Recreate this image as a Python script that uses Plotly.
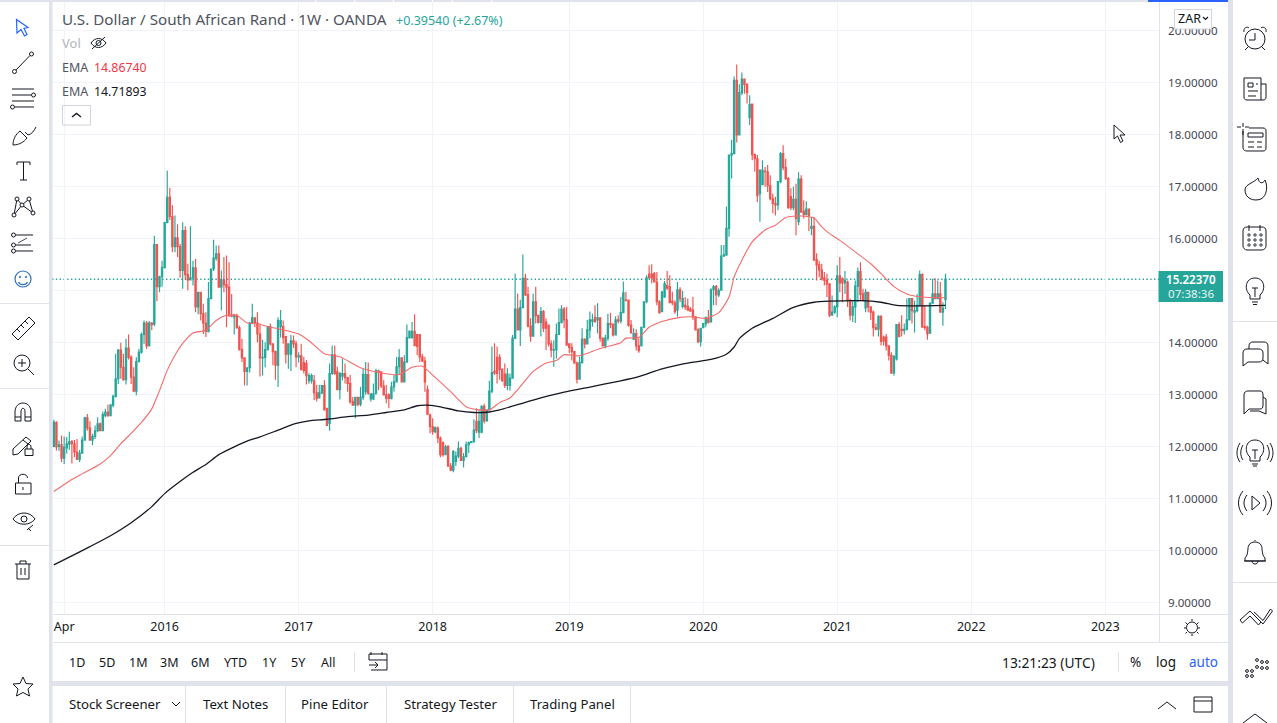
import re
import pandas as pd
import plotly.graph_objects as go

W, H = 1277, 723

# ---------- data (USD/ZAR weekly) ----------
opens = [
 12.01,12.47,12.01,12.04,11.78,11.98,12.05,12.10,12.06,11.90,
 11.76,11.88,12.13,12.56,12.36,12.13,12.20,12.31,12.44,12.31,
 12.60,12.67,12.60,12.80,12.97,13.31,13.86,13.53,13.29,13.90,
 13.72,13.34,13.07,13.64,13.82,14.16,14.38,13.94,14.38,14.36,
 15.89,15.08,15.27,15.45,16.31,16.80,16.43,15.85,16.02,15.85,
 15.39,16.16,15.31,15.21,15.25,15.44,14.69,14.97,14.56,14.38,
 14.22,14.85,15.42,15.63,15.71,15.07,15.21,15.12,15.07,14.52,
 14.50,14.53,14.29,13.87,13.71,13.45,13.52,14.38,14.48,14.38,
 14.17,13.71,13.72,13.87,
 14.31,13.98,13.83,13.57,14.31,14.31,14.12,13.78,13.78,14.04,
 13.98,13.73,13.75,13.62,13.60,13.27,13.27,13.27,13.04,12.94,
 13.03,13.18,12.74,12.45,13.41,13.77,13.44,13.10,13.36,13.41,
 13.33,13.22,12.87,12.80,12.95,12.82,12.95,13.06,13.39,12.92,
 12.92,13.03,13.46,13.44,13.17,13.00,13.00,12.93,13.15,13.25,
 13.54,13.71,13.25,13.63,14.10,14.10,14.22,14.16,14.16,13.73,
 13.65,13.10,12.61,12.39,12.29,12.36,12.17,12.08,11.85,12.01,
 11.63,11.55,11.72,11.82,11.97,11.74,11.81,12.04,12.08,12.10,
 12.49,12.28,12.28,12.78,12.50,
 12.71,13.07,13.45,13.72,13.72,13.49,13.40,13.18,13.18,13.32,
 14.09,14.65,14.25,14.68,15.24,14.93,14.32,14.13,14.79,14.53,
 14.39,14.60,14.40,14.34,13.98,13.86,13.87,14.16,14.39,14.65,
 14.44,13.98,13.91,13.83,13.61,13.30,13.62,14.07,13.98,14.25,
 14.41,14.49,14.44,14.48,14.09,13.94,14.09,14.37,14.36,14.15,
 14.44,14.42,14.58,14.82,14.82,14.34,14.07,14.18,13.94,13.94,
 14.30,14.79,15.32,15.32,15.33,15.17,14.79,14.60,14.88,15.10,
 15.08,14.80,14.77,14.63,15.02,14.70,14.72,14.70,14.65,14.63,
 14.50,14.25,14.02,14.29,14.37,14.47,
 14.40,15.02,15.08,14.92,15.01,15.67,15.69,16.20,17.61,17.64,
 19.05,18.00,18.81,19.07,18.97,18.33,18.59,17.62,17.54,16.87,
 17.04,17.30,17.29,17.02,16.77,16.68,16.65,17.10,17.64,17.37,
 17.16,16.81,16.60,16.76,16.33,17.15,16.53,16.47,16.57,16.20,16.24,
 15.60,15.50,15.40,15.25,15.20,15.13,14.53,14.59,14.69,15.29,
 15.23,15.15,15.17,14.81,14.53,14.69,15.09,15.37,14.94,14.67,
 14.97,14.69,14.59,14.29,14.26,14.51,14.11,14.11,13.94,13.76,
 13.42,13.69,14.35,14.26,14.24,14.26,14.44,14.85,14.59,14.62,
 14.72,15.31,14.31,14.30,14.19,14.76,14.94,14.85,14.94,14.59,14.83]
highs = [
 12.52,12.49,12.12,12.22,12.20,12.19,12.29,12.13,12.13,12.15,
 11.94,12.20,12.58,12.63,12.49,12.25,12.41,12.57,12.47,12.68,
 12.73,12.81,12.81,13.00,13.79,13.88,14.00,13.79,14.08,14.16,
 13.76,13.53,13.72,13.88,14.20,14.43,14.42,14.42,14.40,16.06,
 15.89,15.29,15.58,16.32,17.31,16.98,16.65,16.45,16.28,15.90,
 16.32,16.24,15.52,16.24,15.58,15.61,14.97,14.97,14.75,14.59,
 15.17,15.42,15.98,15.87,15.87,15.39,15.65,15.68,15.55,14.94,
 14.56,14.56,14.33,14.08,13.72,13.53,14.40,14.75,14.49,14.59,
 14.36,14.06,14.01,14.31,
 14.37,13.98,13.85,14.49,14.63,14.43,14.12,13.98,14.15,14.14,
 14.04,13.82,13.98,13.73,13.67,13.42,13.41,13.38,13.19,13.19,
 13.19,13.28,12.74,13.60,13.95,13.95,13.54,13.44,13.69,13.60,
 13.34,13.38,12.96,12.96,12.96,13.15,13.50,13.63,13.62,13.03,
 13.22,13.50,13.48,13.44,13.28,13.19,13.03,13.25,13.38,13.73,
 13.88,13.71,13.76,14.35,14.24,14.40,14.55,14.16,14.17,13.79,
 13.73,13.18,12.64,12.55,12.39,12.39,12.20,12.10,12.04,12.03,
 11.69,11.94,11.91,12.10,12.00,11.88,12.10,12.10,12.11,12.53,
 12.74,12.71,12.80,12.83,12.71,
 13.27,13.93,13.99,13.93,13.78,13.51,13.60,13.51,13.41,14.15,
 15.33,14.95,14.83,15.70,15.33,15.08,14.47,14.95,15.08,14.53,
 14.69,14.63,14.47,14.34,14.05,14.05,14.37,14.66,14.72,14.69,
 14.69,13.98,13.99,13.83,13.64,13.73,14.28,14.09,14.44,14.60,
 14.56,14.72,14.76,14.49,14.09,14.15,14.56,14.58,14.37,14.51,
 14.53,14.88,15.18,14.98,14.83,14.44,14.28,14.26,14.09,14.31,
 14.79,15.30,15.49,15.51,15.36,15.36,14.82,14.98,15.19,15.38,
 15.30,14.98,14.82,15.17,15.07,15.00,14.88,14.85,14.69,14.88,
 14.51,14.28,14.28,14.37,14.50,14.63,
 15.05,15.11,15.11,15.05,15.88,15.88,16.62,17.62,17.90,19.12,
 19.35,18.97,19.20,19.07,18.99,18.76,18.60,17.64,17.61,17.32,
 17.51,17.38,17.42,17.22,16.87,16.81,17.11,17.67,17.80,17.54,
 17.19,16.97,17.00,17.06,17.28,17.22,16.74,16.72,16.57,16.42,16.42,
 15.72,15.58,15.52,15.36,15.33,15.15,14.91,14.72,15.49,15.65,
 15.26,15.38,15.20,14.85,14.81,15.20,15.45,15.55,15.04,15.04,
 14.97,14.69,14.62,14.37,14.53,14.53,14.14,14.17,13.95,13.82,
 13.76,14.36,14.40,14.53,14.37,14.85,14.85,14.85,14.81,14.94,
 15.39,15.34,14.72,14.33,14.78,15.23,15.24,15.20,15.17,14.78,15.33]
lows = [
 11.99,11.93,11.92,11.71,11.67,11.87,11.94,11.68,11.80,11.75,
 11.71,11.88,12.12,12.31,12.12,12.03,12.15,12.28,12.30,12.30,
 12.57,12.58,12.59,12.76,12.95,13.21,13.31,13.27,13.20,13.68,
 13.21,13.05,12.99,13.62,13.79,13.98,13.88,13.93,14.24,14.32,
 14.80,14.97,15.08,15.43,16.30,16.36,15.74,15.74,15.65,15.25,
 15.04,15.21,15.01,15.20,15.10,14.59,14.55,14.43,14.17,14.11,
 14.20,14.84,15.38,15.58,15.07,14.62,14.97,14.30,14.50,14.49,
 14.16,14.27,13.85,13.63,13.18,13.18,13.43,14.36,14.30,14.01,
 13.35,13.37,13.53,13.85,
 13.95,13.57,13.29,13.15,14.10,13.98,13.60,13.50,13.46,13.90,
 13.53,13.62,13.47,13.41,13.20,13.22,13.22,12.90,12.87,12.94,
 13.02,12.71,12.41,12.31,13.38,13.38,13.10,12.91,13.28,13.22,
 13.06,12.83,12.80,12.55,12.78,12.78,12.90,13.00,13.00,12.87,
 12.90,13.00,13.09,13.13,12.99,12.84,12.74,12.91,13.06,13.25,
 13.38,13.24,13.24,13.63,14.08,14.08,13.93,13.76,13.63,13.63,
 13.06,12.61,12.26,12.23,12.26,12.07,11.80,11.81,11.85,11.62,
 11.53,11.51,11.63,11.78,11.73,11.60,11.81,11.88,12.07,12.08,
 12.26,12.17,12.26,12.45,12.48,
 12.70,13.03,13.38,13.22,13.29,13.25,13.13,13.09,13.08,13.32,
 14.07,14.25,13.94,14.66,14.90,14.30,14.02,14.12,14.37,14.37,
 14.12,14.21,13.86,13.93,13.72,13.54,13.70,14.15,14.37,14.28,
 13.94,13.80,13.66,13.60,13.22,13.30,13.60,13.89,13.97,14.09,
 14.31,14.38,14.18,14.02,13.93,13.89,14.04,14.28,14.12,14.15,
 14.37,14.37,14.58,14.80,14.31,14.18,14.05,13.85,13.81,13.93,
 14.28,14.76,15.24,15.14,15.17,14.72,14.56,14.60,14.88,15.02,
 14.77,14.72,14.56,14.50,14.78,14.66,14.63,14.62,14.60,14.44,
 14.24,13.99,13.93,14.28,14.30,14.37,
 14.40,14.72,14.72,14.88,15.00,15.65,15.67,16.04,17.16,17.62,
 17.85,17.99,18.76,18.79,18.60,18.19,17.51,17.29,16.71,16.33,
 17.03,17.00,16.90,16.74,16.49,16.45,16.55,17.07,17.32,17.13,
 16.58,16.55,16.55,16.07,16.26,16.50,16.39,16.45,16.15,16.07,15.59,
 15.20,15.26,15.20,15.10,14.88,14.49,14.52,14.56,14.49,14.97,
 14.78,14.94,14.69,14.43,14.40,14.38,14.78,14.81,14.80,14.59,
 14.59,14.44,14.12,14.24,14.12,13.95,13.95,13.85,13.66,13.40,
 13.37,13.66,14.11,14.12,14.16,14.24,14.43,14.37,14.20,14.59,
 14.70,14.30,14.24,14.06,14.17,14.75,14.84,14.84,14.59,14.33,14.65]
closes = [
 12.47,12.00,12.04,11.78,11.99,12.06,12.10,12.06,11.90,11.76,
 11.88,12.13,12.56,12.36,12.13,12.20,12.31,12.44,12.31,12.62,
 12.67,12.60,12.81,12.97,13.31,13.86,13.53,13.29,13.90,13.72,
 13.34,13.07,13.64,13.82,14.16,14.38,13.94,14.38,14.35,15.89,
 15.08,15.27,15.45,16.31,16.80,16.43,15.85,16.02,15.85,15.39,
 16.16,15.31,15.21,15.25,15.44,14.69,14.97,14.56,14.38,14.22,
 14.85,15.42,15.63,15.71,15.07,15.21,15.12,15.07,14.52,14.51,
 14.53,14.29,13.87,13.71,13.45,13.52,14.38,14.48,14.38,14.17,
 13.71,13.72,13.87,14.31,
 13.98,13.83,13.57,14.43,14.43,14.10,13.78,13.98,14.04,13.98,
 13.73,13.75,13.49,13.47,13.37,13.37,13.37,13.04,12.93,13.04,
 13.18,12.71,12.41,13.41,13.77,13.41,13.10,13.41,13.41,13.33,
 13.22,12.87,12.80,12.95,12.82,12.95,13.39,13.39,13.03,13.02,
 13.02,13.46,13.44,13.17,13.00,12.93,12.93,13.15,13.25,13.54,
 13.71,13.25,13.63,14.10,14.22,14.22,13.95,13.93,13.73,13.65,
 13.25,12.63,12.39,12.29,12.37,12.17,11.85,11.85,12.00,11.63,
 11.55,11.91,11.82,11.97,11.74,11.81,12.04,12.08,12.10,12.32,
 12.31,12.49,12.78,12.50,12.71,
 13.07,13.43,13.42,13.41,13.49,13.27,13.18,13.40,13.32,14.09,
 14.65,14.25,14.68,15.24,14.92,14.32,14.13,14.79,14.52,14.39,
 14.60,14.28,14.28,13.98,13.86,13.87,14.16,14.39,14.65,14.44,
 13.96,13.91,13.83,13.61,13.30,13.62,14.07,13.98,14.25,14.44,
 14.44,14.41,14.48,14.09,13.94,14.09,14.37,14.35,14.15,14.44,
 14.42,14.58,14.96,14.81,14.34,14.19,14.18,13.94,13.85,14.30,
 14.79,15.25,15.25,15.25,15.17,14.79,14.58,14.98,15.14,15.05,
 14.77,14.77,14.60,15.02,14.85,14.85,14.69,14.63,14.61,14.50,
 14.25,14.02,14.28,14.37,14.49,14.39,
 15.02,15.08,14.92,15.01,15.67,15.69,16.20,17.61,17.64,19.05,
 18.00,18.81,19.07,18.97,18.81,18.58,17.62,17.54,16.83,17.32,
 17.32,17.29,17.02,16.77,16.68,16.65,17.10,17.64,17.37,17.16,
 16.60,16.60,16.76,16.39,17.15,16.51,16.47,16.57,16.45,16.24,15.59,
 15.50,15.40,15.23,15.20,15.13,14.53,14.59,14.69,15.29,15.15,
 15.15,15.20,14.81,14.53,14.69,15.09,15.37,14.93,14.81,14.97,
 14.69,14.59,14.29,14.26,14.51,14.03,14.03,13.94,13.76,13.42,
 13.74,14.35,14.12,14.24,14.26,14.44,14.85,14.62,14.62,14.72,
 15.31,14.30,14.29,14.17,14.76,14.94,14.85,14.94,14.59,14.67,15.2237]
weeks = pd.date_range(end="2021-10-18", periods=len(opens), freq="W-MON")

ema50_week = [0,7,11,18,22,26,30,34,38,41,44,47,50,54,59,63,67,71,75,79,83,87,95,99,105,111,119,127,134,139,143,147,154,160,165,169,173,177,182,186,191,195,198,204,212,220,222,227,231,236,243,248,253,258,262,264,267,271,276,280,284,290,295,298,301,305,312,317,321,326,331,337,346]
ema50_val = [11.14,11.37,11.48,11.67,11.83,12.06,12.26,12.47,12.73,13.08,13.47,13.76,13.99,14.19,14.24,14.43,14.53,14.53,14.38,14.37,14.31,14.27,14.17,14.04,13.79,13.73,13.52,13.42,13.39,13.53,13.55,13.38,13.06,12.77,12.71,12.71,12.85,12.94,13.22,13.45,13.61,13.66,13.77,13.75,13.89,14.00,14.09,14.10,14.30,14.41,14.49,14.50,14.47,14.58,14.88,15.27,15.59,15.94,16.17,16.26,16.41,16.44,16.40,16.23,16.10,15.97,15.71,15.52,15.33,15.08,14.94,14.88,14.8674]
ema200_week = [0,6,14,22,30,38,43,50,54,59,64,70,75,80,87,94,99,106,114,122,129,136,141,145,150,157,163,169,173,186,198,208,219,227,236,247,255,261,264,266,271,279,287,295,301,313,321,327,335,346]
ema200_val = [9.73,9.88,10.08,10.29,10.54,10.85,11.10,11.37,11.51,11.66,11.85,12.00,12.11,12.19,12.32,12.45,12.50,12.53,12.58,12.61,12.66,12.71,12.79,12.80,12.77,12.69,12.66,12.67,12.71,12.90,13.05,13.15,13.26,13.35,13.50,13.62,13.68,13.78,13.92,14.08,14.28,14.47,14.68,14.78,14.80,14.81,14.78,14.72,14.71,14.71893]

last_price = 15.2237
price_ticks = list(range(9, 21))
price_labels = [f"{v:.5f}" if v != 15 else "" for v in price_ticks]
time_ticks = ["2015-03-30","2015-12-28","2016-12-26","2017-12-25","2018-12-31","2019-12-30","2020-12-28","2021-12-27","2022-12-26"]
time_labels = ["Apr","2016","2017","2018","2019","2020","2021","2022","2023"]
range_buttons = ["1D","5D","1M","3M","6M","YTD","1Y","5Y","All"]
tabs = ["Stock Screener","Text Notes","Pine Editor","Strategy Tester","Trading Panel"]

UP, DOWN = "#26a69a", "#ef5350"
INK, STRIP, GRID = "#131722", "#e0e3eb", "#f0f3fa"
FONT = "Noto Sans"

# ---------- helpers in window pixels ----------
def px(x): return x / W
def py(y): return 1 - y / H

def path_d(d):
    out, is_x = [], True
    for tok in re.findall(r"[A-Za-z]|-?[\d.]+", d):
        if tok.isalpha():
            out.append(tok); is_x = True
        else:
            out.append(f"{px(float(tok)):.5f}" if is_x else f"{py(float(tok)):.5f}")
            is_x = not is_x
    return " ".join(out)

shapes, notes = [], []
def path(d, color=INK, width=1.0, fill=None):
    shapes.append(dict(type="path", xref="paper", yref="paper", path=path_d(d), layer="above",
                       line=dict(color=color, width=width), fillcolor=fill or "rgba(0,0,0,0)"))
def rect(x0, y0, x1, y1, fill=None, color=None, width=1.0):
    shapes.append(dict(type="rect", xref="paper", yref="paper", x0=px(x0), x1=px(x1), y0=py(y1), y1=py(y0), layer="above",
                       fillcolor=fill or "rgba(0,0,0,0)", line=dict(color=color or "rgba(0,0,0,0)", width=width if color else 0)))
def circ(cx, cy, r, color=INK, width=1.0, fill=None):
    shapes.append(dict(type="circle", xref="paper", yref="paper", x0=px(cx-r), x1=px(cx+r), y0=py(cy+r), y1=py(cy-r), layer="above",
                       fillcolor=fill or "rgba(0,0,0,0)", line=dict(color=color, width=width)))
def text(x, y, s, size=13, color=INK, anchor="center", weight=None):
    if anchor == "left":
        x -= 2
    notes.append(dict(xref="paper", yref="paper", x=px(x), y=py(y), text=s, showarrow=False, xanchor=anchor, yanchor="middle",
                      font=dict(family=FONT, size=size, color=color, weight=weight or 400)))

# ---------- window frame ----------
rect(0, 0, 49, 723, "#ffffff")
rect(49, 0, 52.5, 723, STRIP)
rect(1228, 0, 1233, 723, STRIP)
rect(52, 681, 1228, 686, STRIP)
rect(0, 0, 1228, 2, STRIP)
rect(1148, 0, 1228, 2, "#2962ff")
for xs in [315, 354, 393, 432, 452, 491]:
    rect(xs, 0, xs + 1, 2, "#ffffff")
rect(53, 642, 1228, 643, STRIP)
rect(1159, 2, 1160, 642, STRIP)
rect(53, 614, 1228, 615, STRIP)
for y in [303, 388, 545]:
    rect(0, y, 49, y + 1, STRIP)
for y in [321, 582]:
    rect(1233, y, 1277, y + 1, STRIP)
for x in [185, 285, 386, 513, 630]:
    rect(x, 686, x + 1, 723, STRIP)
rect(354, 652, 355, 672, STRIP)
rect(1118, 652, 1119, 672, STRIP)

# ---------- left tools ----------
path("M16.5 19.5 L17 33 L21 29.5 L24.5 36 L27 34.5 L24 28.5 L28 27.5 Z", "#2962ff", 1.2)
path("M16 70 L30 55.5"); circ(14.5, 71.5, 2); circ(31.5, 54, 2)
path("M12 89 L34 89 M12 95 L31 95 M12 101 L34 101 M15 107 L34 107"); circ(33.5, 95, 2); circ(12.5, 107, 2)
path("M13 145 C13 139 16 134 20 131 L27 138 C24 142 19 145 13 145 Z M25 132 L28 135 C32 134 34 131 36 127")
path("M17 165 L17 162 L30 162 L30 165 M23.5 162 L23.5 180 M20 180 L27 180")
path("M14 215 L17 199 L22 205 L29 199 L33 213 L22 205 Z")
for cx, cy in [(14, 215), (17, 199), (22, 205), (29, 199), (33, 213)]:
    circ(cx, cy, 2, fill="#ffffff")
path("M16 235 L33 235 M16 245 L31 245 M16 251 L33 251")
for cy in [235, 245, 251]:
    circ(13.5, cy, 2)
path("M18 243 L27 238", width=0.8)
circ(23, 279, 8, "#2a6fb8", 1.2)
circ(20, 277, 0.8, "#2a6fb8", 1); circ(26, 277, 0.8, "#2a6fb8", 1)
path("M18.5 282 C20 285.5 26 285.5 27.5 282", "#2a6fb8", 1.2)
path("M12 334 L29 317 L35 323 L18 340 Z M17 329 L20 332 M21 325 L24 328 M25 321 L28 324")
circ(22, 363, 8); path("M28 369 L34 375 M18 363 L26 363 M22 359 L22 367")
path("M15 421 L15 412 C15 400 31 400 31 412 L31 421 L25 421 L25 412 C25 407 21 407 21 412 L21 421 Z M15 417 L21 417 M25 417 L31 417")
path("M13 449 L26 437 L31 441 L18 454 L13 455 Z M23 440 L28 444")
rect(25, 449, 33, 455.5, color=INK, width=1.0); path("M27 449 L27 447 C27 443.5 31 443.5 31 447 L31 449")
rect(15.5, 483, 31, 494, color=INK, width=1.0); path("M18.5 483 L18.5 478 C18.5 473 27.5 473 27.5 478 M23 487 L23 490")
path("M13 519 C18 511 30 511 35 519 C30 526 18 526 13 519 Z"); circ(24, 519, 3)
path("M27 530 L33 525 M28 528 L31 531", width=1.0)
path("M15 564 L31 564 M20 564 L20 561 L26 561 L26 564 M17 564 L17 579 L29 579 L29 564 M21 568 L21 575 M25 568 L25 575")
path("M23 677 L26 683.5 L33 684 L28 689 L29.5 696 L23 692.5 L16.5 696 L18 689 L13 684 L20 683.5 Z")

# ---------- right tools ----------
circ(1255, 39, 10)
path("M1255 33 L1255 40 L1249 40 M1244 32 C1243 28 1247 26 1249 28 M1266 32 C1267 28 1263 26 1261 28 M1248 47 L1245 50 M1262 47 L1265 50")
path("M1244 78 L1261 78 L1261 100 L1247 100 C1245 100 1244 99 1244 97 Z M1261 84 L1266 84 L1266 97 C1266 99 1265 100 1263 100 L1261 100")
rect(1248, 83, 1253, 87, color=INK); path("M1256 84 L1258 84 M1248 91 L1258 91 M1248 96 L1256 96")
path("M1243 129 L1243 148 C1243 150 1245 151 1247 151 L1263 151 C1265 151 1266 150 1266 148 L1266 131 C1266 129 1265 128 1263 128 L1249 128")
rect(1248, 133, 1263, 137, color=INK); path("M1248 142 L1254 142 M1257 142 L1262 142 M1248 147 L1254 147 M1257 147 L1262 147")
path("M1243 123 L1243 127 M1243 131 L1243 135 M1237 127 L1241 127 M1245 127 L1249 127")
path("M1258 178 C1259 184 1263 184 1265 180 C1268 186 1267 196 1261 199 C1253 202 1245 198 1245 190 C1245 184 1254 183 1258 178 Z")
path("M1243 231 C1243 228 1245 227 1247 227 L1262 227 C1264 227 1266 228 1266 231 L1266 246 C1266 248 1264 250 1262 250 L1247 250 C1245 250 1243 248 1243 246 Z M1249 225 L1249 231 M1260 225 L1260 231")
for cx in [1249, 1255, 1261]:
    for cy in [235, 240, 245]:
        circ(cx, cy, 1.2, width=0.9)
path("M1250 295 C1244 290 1245 278 1255 278 C1265 278 1266 290 1260 295 L1260 299 L1250 299 Z M1252 302 L1258 302 M1253 304.5 L1257 304.5 M1255 288 L1255 297 M1252 288 L1258 288")
path("M1243 353 C1243 350 1245 349 1247 349 L1259 349 C1261 349 1263 350 1263 353 L1263 358 C1263 361 1261 362 1259 362 L1248 362 L1243 366 Z M1249 349 L1249 346 C1249 343 1251 342 1253 342 L1264 342 C1266 342 1268 343 1268 346 L1268 364 L1263 360")
path("M1244 414 L1244 395 C1244 392 1246 391 1248 391 L1260 391 C1262 391 1263 392 1263 395 L1263 405 C1263 408 1262 409 1260 409 L1249 409 Z M1263 397 L1266 399 L1266 414 L1259 411 L1250 411")
path("M1250 457 C1244 452 1245 440 1255 440 C1265 440 1266 452 1260 457 L1260 461 L1250 461 Z M1252 464 L1258 464 M1253 466 L1257 466 M1255 450 L1255 459 M1252 450 L1258 450")
path("M1243 445 C1240 450 1240 456 1243 460 M1240 443 C1236 449 1236 457 1240 462 M1267 445 C1270 450 1270 456 1267 460 M1270 443 C1274 449 1274 457 1270 462")
path("M1252 496 L1260 503 L1252 510 Z")
path("M1247 495 C1243 500 1243 506 1247 511 M1243 491 C1237 498 1237 508 1243 515 M1263 495 C1267 500 1267 506 1263 511 M1267 491 C1273 498 1273 508 1267 515")
path("M1245 558 C1249 554 1247 548 1249 545 C1251 541 1259 541 1261 545 C1263 548 1261 554 1265 558 L1265 561 L1245 561 Z M1252 561 C1252 565 1258 565 1258 561 M1244 561 L1266 561 M1255 541 L1255 540")
path("M1240 620 L1250 611 L1261 622 L1258.5 625 L1250 616 L1242.5 623 Z M1254 612 L1263 620.5 L1270.5 609 L1272.5 611 L1263 624 L1258 619")
for cx, cy in [(1247, 671), (1247, 676), (1252, 671), (1252, 676), (1257, 667), (1257, 660), (1262, 662), (1262, 668), (1267, 662), (1267, 668)]:
    circ(cx, cy, 1.4, width=1.0)
path("M1243 723 L1255 714 L1267 723")
path("M1158 709 L1167 702 L1176 709")
rect(1194, 697, 1212, 712, color=INK, width=1.0); path("M1194 701 L1212 701")
path("M1192 621 L1192 619 M1192 634 L1192 636 M1186 628 L1184 628 M1200 628 L1198 628")
circ(1192, 627.5, 5.5)
path("M1187 624 L1185.5 622.5 M1197 632 L1198.5 633.5 M1197 624 L1198.5 622.5 M1187 632 L1185.5 633.5")
path("M371 655 L371 652 M382 655 L382 652 M371 670 L387 670 L387 654 L369 654 L369 660 L387 660 M369 665 L378 665 M375 662 L378 665 L375 668", width=1.0)
path("M172 702 L176 706 L180 702", width=1.0)

# ---------- legend ----------
text(62, 19, "U.S. Dollar / South African Rand · 1W · OANDA", 15.2, "#50535e", "left")
text(396, 20, "+0.39540 (+2.67%)", 12.5, UP, "left")
text(62, 43, "Vol", 13, "#b2b5be", "left")
path("M91 43 C95 37 102 37 106 43 C102 49 95 49 91 43 Z M92 49 L105 37"); circ(98.5, 43, 2.5)
text(62, 67, "EMA", 12.5, "#50535e", "left")
text(94, 67, "14.86740", 12.3, "#f23645", "left")
text(62, 91, "EMA", 12.5, "#50535e", "left")
text(94, 91, "14.71893", 12.3, "#131722", "left")
rect(62.5, 105.5, 90.5, 125, color="#d1d4dc")
path("M72 117 L76.5 113.5 L81 117", width=1.4)

# ---------- price and unit boxes ----------
rect(1174.5, 9.5, 1211.5, 29, "#ffffff", "#d1d4dc")
rect(1158.5, 271, 1223, 302, UP)
text(1191, 279.5, "15.22370", 11.6, "#ffffff", weight=600)
text(1191, 293, "07:38:36", 11.6, "rgba(255,255,255,0.8)", weight=500)
text(1189, 18.5, "ZAR", 12.5, "#131722")
path("M1203 17 L1205.5 19.5 L1208 17", width=1.2)

# ---------- bottom bars ----------
for label, x in zip(range_buttons, [77, 107, 138, 169, 200, 235, 269, 298, 328]):
    text(x, 662, label, 12.5, INK)
text(1048, 662, "13:21:23 (UTC)", 13.8, INK)
text(1135, 662, "%", 13.5, INK)
text(1166, 662, "log", 13.5, INK)
text(1203, 662, "auto", 13.5, "#2962ff")
for label, x in zip(tabs, [115, 235, 335, 450, 572]):
    text(x, 704, label, 13.2, INK)

# cursor arrow over the pane
path("M1114 125 L1114 139 L1117.5 136 L1120.5 142.5 L1123 141 L1120 135 L1125 135 Z", "#131722", 1.0, "#ffffff")

shapes.insert(0, dict(type="line", xref="paper", yref="y", x0=px(52), x1=px(1159), y0=last_price, y1=last_price, layer="between",
                      line=dict(color=UP, width=1.4, dash="1.4px,2.4px")))

# ---------- figure ----------
fig = go.Figure()
fig.add_trace(go.Candlestick(x=weeks, open=opens, high=highs, low=lows, close=closes,
                             increasing=dict(line=dict(color=UP, width=1.15), fillcolor=UP),
                             decreasing=dict(line=dict(color=DOWN, width=1.15), fillcolor=DOWN),
                             whiskerwidth=0, hoverinfo="skip"))
fig.add_trace(go.Scatter(x=weeks[ema50_week], y=ema50_val, mode="lines", line=dict(color="#f66a6a", width=1.1, shape="spline", smoothing=0.6), hoverinfo="skip"))
fig.add_trace(go.Scatter(x=weeks[ema200_week], y=ema200_val, mode="lines", line=dict(color="#131722", width=1.3, shape="spline", smoothing=0.6), hoverinfo="skip"))

end = pd.Timestamp("2021-10-18")
fig.update_layout(
    width=W, height=H, margin=dict(l=0, r=0, t=0, b=0), showlegend=False, hovermode=False,
    paper_bgcolor="#ffffff", plot_bgcolor="#ffffff", font=dict(family=FONT, size=12.5, color="#131722"),
    xaxis=dict(type="date", domain=[52 / W, 1159 / W], range=[end - pd.Timedelta(days=2427), end + pd.Timedelta(days=580)],
               rangeslider=dict(visible=False), tickmode="array", tickvals=time_ticks, ticktext=time_labels,
               showgrid=True, gridcolor=GRID, gridwidth=1, zeroline=False, showline=False, ticks="",
               tickfont=dict(family=FONT, size=12.5, color="#131722"), ticklabelstandoff=3, fixedrange=True),
    yaxis=dict(domain=[1 - 614 / H, 1 - 2 / H], range=[8.785, 20.554], side="right", tickmode="array", tickvals=price_ticks,
               ticktext=price_labels, showgrid=True, gridcolor=GRID, gridwidth=1, zeroline=False, showline=False, ticks="",
               tickfont=dict(family=FONT, size=11.6, color="#434651"), ticklabelstandoff=8, fixedrange=True),
    shapes=shapes, annotations=notes,
)
fig.write_html("out.html", config=dict(displayModeBar=False, staticPlot=True),
               post_script="document.body.style.margin='0';document.body.style.overflow='hidden';")
